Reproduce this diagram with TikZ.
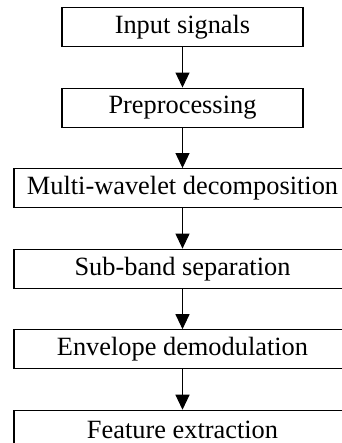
\documentclass[tikz,border=0pt]{standalone}
\usepackage{fontspec}
\setmainfont{Liberation Serif}
\usepackage{tikz}
\usetikzlibrary{arrows.meta, positioning}

\begin{document}
\begin{tikzpicture}[
    process/.style={rectangle, draw=black, line width=0.6pt, minimum width=4.82cm, minimum height=0.78cm, align=center, font=\fontsize{15}{18}\selectfont, inner sep=0pt},
    wide/.style={process, minimum width=6.74cm},
    arrow/.style={-{Triangle[length=0.3cm, width=0.28cm]}, line width=0.6pt},
    node distance=0.81cm
]

\useasboundingbox (0,0) rectangle (6.84,-8.86);

\node[process] (input) at (3.65,-0.54) {Input signals};
\node[process, below=of input] (prep) {Preprocessing};
\node[wide, below=of prep] (mwd) {Multi-wavelet decomposition};
\node[wide, below=of mwd] (sub) {Sub-band separation};
\node[wide, below=of sub] (env) {Envelope demodulation};
\node[wide, below=of env] (feat) {Feature extraction};

% Arrows
\draw[arrow] (input) -- (prep);
\draw[arrow] (prep) -- (mwd);
\draw[arrow] (mwd) -- (sub);
\draw[arrow] (sub) -- (env);
\draw[arrow] (env) -- (feat);

\end{tikzpicture}
\end{document}
